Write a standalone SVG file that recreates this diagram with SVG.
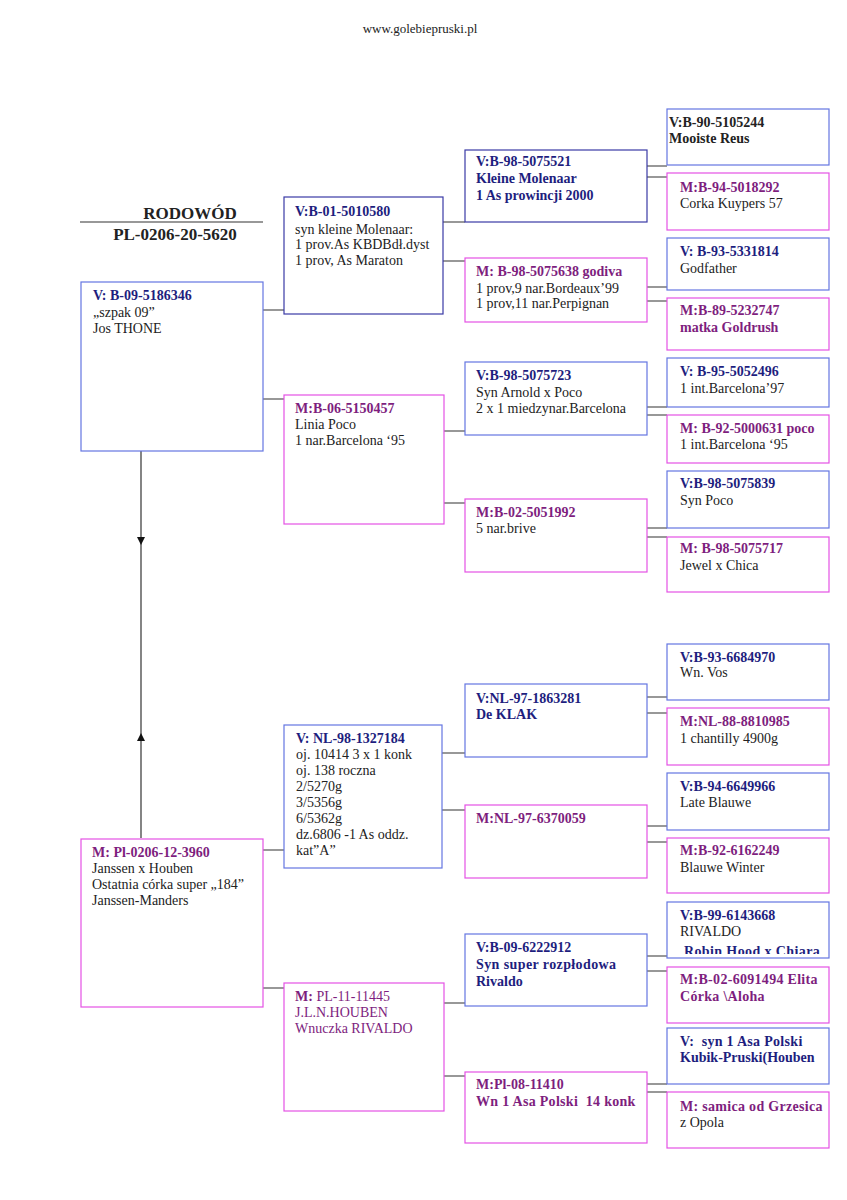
<svg xmlns="http://www.w3.org/2000/svg" width="847" height="1200" viewBox="0 0 847 1200">
<style>
.t{font-family:"Liberation Serif","Times New Roman",serif;font-size:14px;fill:#222}
.b{font-weight:bold}
.n{fill:#1e1e7e}
.p{fill:#7e1e7e}
.pre{white-space:pre}
.bx{fill:#fff;stroke-width:1.2}
.bv{stroke:#6476e2}
.bd{stroke:#3a3aa6}
.bm{stroke:#e452e4}
.c{stroke:#333;stroke-width:1.2;fill:none}
</style>
<defs>
<marker id="ah" markerUnits="userSpaceOnUse" markerWidth="9" markerHeight="9" refX="8" refY="4.5" orient="auto">
<path d="M0,0.5 L8,4.5 L0,8.5 z" fill="#111"/>
</marker>
<clipPath id="clipRivaldo"><rect x="667" y="902" width="162" height="52"/></clipPath>
</defs>
<rect width="847" height="1200" fill="#fff"/>
<text class="t" x="420" y="33" text-anchor="middle" style="font-size:13px">www.golebiepruski.pl</text>
<g id="title">
<text class="t b" x="190" y="219" text-anchor="middle" style="font-size:17px">RODOWÓD</text>
<line x1="80" y1="222" x2="263" y2="222" stroke="#333" stroke-width="1.2"/>
<text class="t b" x="175" y="240" text-anchor="middle" style="font-size:17px">PL-0206-20-5620</text>
</g>
<g id="connectors">
<path class="c" d="M141 450 V545" marker-end="url(#ah)"/>
<path class="c" d="M141 838 V733" marker-end="url(#ah)"/>
<path class="c" d="M141 545 V733"/>
<path class="c" d="M263 310 H284 M263 399 H284 M263 850 H284 M263 988 H284"/>
<path class="c" d="M443 222 H465 M443 261 H465 M444 431 H465 M444 503 H465 M442 753 H465 M442 810 H465 M444 1003 H465 M444 1076 H465"/>
<path class="c" d="M647 166 H667 M647 177 H667 M647 287 H667 M647 301 H667 M647 407 H667 M647 415 H667 M647 528 H667 M647 537 H667 M647 697 H667 M647 713 H667 M647 826 H667 M647 842 H667 M647 956 H667 M647 971 H667 M647 1084 H667 M647 1092 H667"/>
</g>
<g id="g1v"><rect class="bx bv" x="81" y="282" width="182" height="169"/>
<text class="t b n" x="93" y="300">V: B-09-5186346</text>
<text class="t" x="93" y="317">„szpak 09”</text>
<text class="t" x="93" y="333">Jos THONE</text></g>
<g id="g1m"><rect class="bx bm" x="81" y="839" width="182" height="168"/>
<text class="t b p" x="92" y="857">M: Pl-0206-12-3960</text>
<text class="t" x="92" y="873">Janssen x Houben</text>
<text class="t" x="92" y="889">Ostatnia córka super „184”</text>
<text class="t" x="92" y="905">Janssen-Manders</text></g>
<g id="g2a"><rect class="bx bd" x="284" y="197" width="159" height="117"/>
<text class="t b n" x="295" y="216">V:B-01-5010580</text>
<text class="t" x="295" y="234">syn kleine Molenaar:</text>
<text class="t" x="295" y="249">1 prov.As KBDBdł.dyst</text>
<text class="t" x="295" y="265">1 prov, As Maraton</text></g>
<g id="g2b"><rect class="bx bm" x="284" y="395" width="160" height="129"/>
<text class="t b p" x="295" y="413">M:B-06-5150457</text>
<text class="t" x="295" y="429">Linia Poco</text>
<text class="t" x="295" y="445">1 nar.Barcelona ‘95</text></g>
<g id="g2c"><rect class="bx bv" x="284" y="725" width="158" height="143"/>
<text class="t b n" x="296" y="743">V: NL-98-1327184</text>
<text class="t" x="296" y="759">oj. 10414 3 x 1 konk</text>
<text class="t" x="296" y="775">oj. 138 roczna</text>
<text class="t" x="296" y="791">2/5270g</text>
<text class="t" x="296" y="807">3/5356g</text>
<text class="t" x="296" y="823">6/5362g</text>
<text class="t" x="296" y="839">dz.6806 -1 As oddz.</text>
<text class="t" x="296" y="855">kat”A”</text></g>
<g id="g2d"><rect class="bx bm" x="284" y="983" width="160" height="128"/>
<text class="t p" x="295" y="1001"><tspan class="b">M:</tspan> PL-11-11445</text>
<text class="t p" x="295" y="1017">J.L.N.HOUBEN</text>
<text class="t p" x="295" y="1033">Wnuczka RIVALDO</text></g>
<g id="g3a"><rect class="bx bd" x="465" y="150" width="182" height="72"/>
<text class="t b n" x="476" y="166">V:B-98-5075521</text>
<text class="t b n" x="476" y="183">Kleine Molenaar</text>
<text class="t b n" x="476" y="200">1 As prowincji 2000</text></g>
<g id="g3b"><rect class="bx bm" x="465" y="258" width="182" height="64"/>
<text class="t b p" x="476" y="276">M: B-98-5075638 godiva</text>
<text class="t" x="476" y="293">1 prov,9 nar.Bordeaux’99</text>
<text class="t" x="476" y="308">1 prov,11 nar.Perpignan</text></g>
<g id="g3c"><rect class="bx bv" x="465" y="362" width="182" height="73"/>
<text class="t b n" x="476" y="380">V:B-98-5075723</text>
<text class="t" x="476" y="397">Syn Arnold x Poco</text>
<text class="t" x="476" y="413">2 x 1 miedzynar.Barcelona</text></g>
<g id="g3d"><rect class="bx bm" x="465" y="499" width="182" height="73"/>
<text class="t b p" x="476" y="517">M:B-02-5051992</text>
<text class="t" x="476" y="533">5 nar.brive</text></g>
<g id="g3e"><rect class="bx bv" x="465" y="684" width="182" height="73"/>
<text class="t b n" x="476" y="703">V:NL-97-1863281</text>
<text class="t b n" x="476" y="719">De KLAK</text></g>
<g id="g3f"><rect class="bx bm" x="465" y="805" width="182" height="73"/>
<text class="t b p" x="476" y="823">M:NL-97-6370059</text></g>
<g id="g3g"><rect class="bx bv" x="465" y="934" width="182" height="72"/>
<text class="t b n" x="476" y="952">V:B-09-6222912</text>
<text class="t b n" x="476" y="969" letter-spacing="0.4">Syn super rozpłodowa</text>
<text class="t b n" x="476" y="986">Rivaldo</text></g>
<g id="g3h"><rect class="bx bm" x="465" y="1072" width="182" height="71"/>
<text class="t b p" x="476" y="1089">M:Pl-08-11410</text>
<text class="t b p pre" x="476" y="1106" letter-spacing="0.3">Wn 1 Asa Polski  14 konk</text></g>
<g id="g4a"><rect class="bx bv" x="667" y="109" width="162" height="56"/>
<text class="t b" x="669" y="127">V:B-90-5105244</text>
<text class="t b" x="669" y="143">Mooiste Reus</text></g>
<g id="g4b"><rect class="bx bm" x="667" y="173" width="162" height="57"/>
<text class="t b p" x="680" y="192">M:B-94-5018292</text>
<text class="t" x="680" y="208">Corka Kuypers 57</text></g>
<g id="g4c"><rect class="bx bv" x="667" y="238" width="162" height="52"/>
<text class="t b n" x="680" y="256">V: B-93-5331814</text>
<text class="t" x="680" y="273">Godfather</text></g>
<g id="g4d"><rect class="bx bm" x="667" y="298" width="162" height="52"/>
<text class="t b p" x="680" y="315">M:B-89-5232747</text>
<text class="t b p" x="680" y="332">matka Goldrush</text></g>
<g id="g4e"><rect class="bx bv" x="667" y="358" width="162" height="49"/>
<text class="t b n" x="680" y="376">V: B-95-5052496</text>
<text class="t" x="680" y="393">1 int.Barcelona’97</text></g>
<g id="g4f"><rect class="bx bm" x="667" y="415" width="162" height="48"/>
<text class="t b p" x="680" y="433">M: B-92-5000631 poco</text>
<text class="t" x="680" y="449">1 int.Barcelona ‘95</text></g>
<g id="g4g"><rect class="bx bv" x="667" y="471" width="162" height="57"/>
<text class="t b n" x="680" y="488">V:B-98-5075839</text>
<text class="t" x="680" y="505">Syn Poco</text></g>
<g id="g4h"><rect class="bx bm" x="667" y="537" width="162" height="55"/>
<text class="t b p" x="680" y="553">M: B-98-5075717</text>
<text class="t" x="680" y="570">Jewel x Chica</text></g>
<g id="g4i"><rect class="bx bv" x="667" y="644" width="162" height="56"/>
<text class="t b n" x="680" y="662">V:B-93-6684970</text>
<text class="t" x="680" y="677">Wn. Vos</text></g>
<g id="g4j"><rect class="bx bm" x="667" y="708" width="162" height="57"/>
<text class="t b p" x="680" y="726">M:NL-88-8810985</text>
<text class="t" x="680" y="743">1 chantilly 4900g</text></g>
<g id="g4k"><rect class="bx bv" x="667" y="773" width="162" height="57"/>
<text class="t b n" x="680" y="791">V:B-94-6649966</text>
<text class="t" x="680" y="807">Late Blauwe</text></g>
<g id="g4l"><rect class="bx bm" x="667" y="838" width="162" height="55"/>
<text class="t b p" x="680" y="855">M:B-92-6162249</text>
<text class="t" x="680" y="872">Blauwe Winter</text></g>
<g id="g4m"><rect class="bx bv" x="667" y="902" width="162" height="56"/>
<text class="t b n" x="680" y="920">V:B-99-6143668</text>
<text class="t" x="680" y="936">RIVALDO</text>
<text class="t b n pre" x="680" y="956" clip-path="url(#clipRivaldo)" letter-spacing="0.4"> Robin Hood x Chiara</text></g>
<g id="g4n"><rect class="bx bm" x="667" y="967" width="162" height="56"/>
<text class="t b p" x="680" y="984" letter-spacing="0.3">M:B-02-6091494 Elita</text>
<text class="t b p" x="680" y="1001" letter-spacing="0.3">Córka \Aloha</text></g>
<g id="g4o"><rect class="bx bv" x="667" y="1028" width="162" height="56"/>
<text class="t b n pre" x="680" y="1046" letter-spacing="0.3">V:  syn 1 Asa Polski</text>
<text class="t b n" x="680" y="1062">Kubik-Pruski(Houben</text></g>
<g id="g4p"><rect class="bx bm" x="667" y="1092" width="162" height="56"/>
<text class="t b p" x="680" y="1111" letter-spacing="0.3">M: samica od Grzesica</text>
<text class="t" x="680" y="1127">z Opola</text></g>
</svg>
